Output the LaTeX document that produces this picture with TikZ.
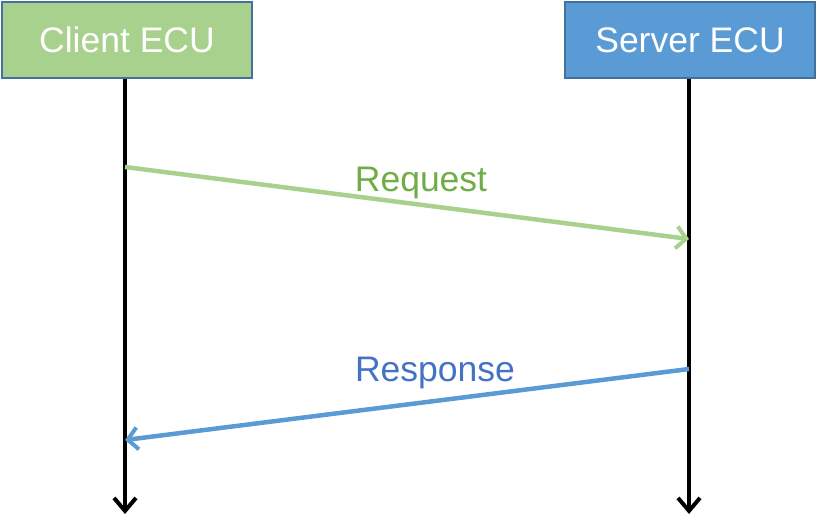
\documentclass[tikz,border=0pt]{standalone}
\usepackage{fontspec}
\setmainfont{Liberation Sans}
\usetikzlibrary{arrows.meta}
\definecolor{cgreen}{RGB}{169,209,142}
\definecolor{cblue}{RGB}{91,155,213}
\definecolor{cborder}{RGB}{65,113,156}
\definecolor{tgreen}{RGB}{112,173,71}
\definecolor{tblue}{RGB}{68,114,196}
\begin{document}
\begin{tikzpicture}[x=1pt,y=-1pt,
  ecubox/.style={draw=cborder,line width=2pt,minimum width=250pt,minimum height=76pt,inner sep=0pt,text=white,font=\fontsize{35.5}{40}\selectfont},
  lifeline/.style={line width=4.5pt,black,-{Straight Barb[length=13pt,width=22pt,line width=4pt]}},
  msg/.style={line width=4.5pt,-{Straight Barb[length=10pt,width=22pt,line width=4pt]}},
  msglabel/.style={font=\fontsize{35.5}{40}\selectfont}]
\useasboundingbox (0,0) rectangle (818,516);
\node[ecubox,fill=cgreen] (client) at (127,40) {Client ECU};
\node[ecubox,fill=cblue] (server) at (690,40) {Server ECU};
\coordinate (cend) at (125,514);
\coordinate (send) at (689,514);
\coordinate (c1) at (125,167);
\coordinate (s1) at (689,239);
\coordinate (s2) at (689,369);
\coordinate (c2) at (125,440);
\draw[lifeline] (client.south -| cend) -- (cend);
\draw[lifeline] (server.south -| send) -- (send);
\draw[msg,cgreen] (c1) -- (s1);
\draw[msg,cblue] (s2) -- (c2);
\node[msglabel,text=tgreen] (req) at (421,183) {Request};
\node[msglabel,text=tblue] (resp) at (435,373) {Response};
\end{tikzpicture}
\end{document}
